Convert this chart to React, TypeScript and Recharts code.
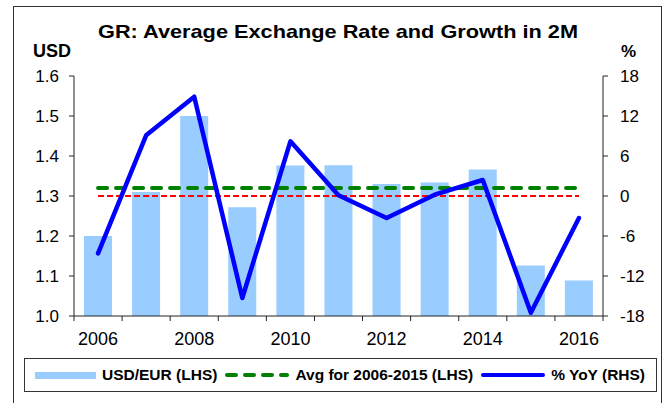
import React from "react";
import { ComposedChart, Bar, Line, XAxis, YAxis, Legend } from "recharts";

const years = ["2006", "2007", "2008", "2009", "2010", "2011", "2012", "2013", "2014", "2015", "2016"];
const usdEur = [1.2, 1.31, 1.5, 1.272, 1.376, 1.377, 1.33, 1.334, 1.366, 1.126, 1.089];
const avgLine = [1.32, 1.32, 1.32, 1.32, 1.32, 1.32, 1.32, 1.32, 1.32, 1.32, 1.32];
const parLine = [1.3, 1.3, 1.3, 1.3, 1.3, 1.3, 1.3, 1.3, 1.3, 1.3, 1.3];
const yoy = [-8.6, 9.1, 14.9, -15.3, 8.2, 0.1, -3.3, 0.2, 2.4, -17.5, -3.3];
const leftTicks = [1.0, 1.1, 1.2, 1.3, 1.4, 1.5, 1.6];
const rightTicks = [-18, -12, -6, 0, 6, 12, 18];
const legendOrder = ["usd", "avg", "yoy"];

const data = years.map((y, i) => ({
  year: y,
  usd: usdEur[i],
  avg: avgLine[i],
  par: parLine[i],
  yoy: yoy[i],
}));

const W = 669;
const H = 403;
const PLOT_LEFT = 74;
const PLOT_RIGHT = 603;
const BAND = (PLOT_RIGHT - PLOT_LEFT) / years.length;
const FONT = '"Liberation Sans", Arial, sans-serif';

const XTick = (props: any) => {
  const { x, y, payload, index } = props;
  const isLast = index === years.length - 1;
  return (
    <g>
      <line x1={x - BAND / 2} x2={x - BAND / 2} y1={y} y2={y + 5} stroke="#222" strokeWidth={1} />
      {isLast && <line x1={x + BAND / 2} x2={x + BAND / 2} y1={y} y2={y + 5} stroke="#222" strokeWidth={1} />}
      {index % 2 === 0 && (
        <text x={x} y={y + 29} textAnchor="middle" fontSize={18} fontFamily={FONT} fill="#000">
          {payload.value}
        </text>
      )}
    </g>
  );
};

const LegendContent = (props: any) => {
  const payload = (props.payload || [])
    .filter((p: any) => p.type !== "none" && legendOrder.includes(p.dataKey))
    .sort((a: any, b: any) => legendOrder.indexOf(a.dataKey) - legendOrder.indexOf(b.dataKey));
  const icon = (p: any) => {
    if (p.dataKey === "usd") {
      return <div style={{ width: 61, height: 7, background: "#99CCFF" }} />;
    }
    const dashed = p.dataKey === "avg";
    return (
      <svg width={64} height={8}>
        <line
          x1={2}
          x2={62}
          y1={4}
          y2={4}
          stroke={p.color}
          strokeWidth={4}
          strokeLinecap="round"
          strokeDasharray={dashed ? "9 9" : undefined}
        />
      </svg>
    );
  };
  return (
    <div
      style={{
        boxSizing: "border-box",
        width: 633,
        height: 34,
        border: "1px solid #333",
        background: "#fff",
        display: "flex",
        alignItems: "center",
        paddingLeft: 10,
        fontFamily: FONT,
        fontWeight: "bold",
        fontSize: 15.5,
        color: "#000",
        whiteSpace: "nowrap",
      }}
    >
      {payload.map((p: any, i: number) => (
        <div key={i} style={{ display: "flex", alignItems: "center", marginRight: 8 }}>
          {icon(p)}
          <span style={{ marginLeft: 6 }}>{p.value}</span>
        </div>
      ))}
    </div>
  );
};

export default function App() {
  return (
    <div style={{ position: "absolute", left: 0, top: 0, width: W, height: H, overflow: "hidden", background: "#fff" }}>
      <div
        style={{
          position: "absolute",
          left: 13,
          top: 6,
          width: 649,
          height: 420,
          border: "1.5px solid #333",
          boxSizing: "border-box",
        }}
      />
      <ComposedChart
        width={W}
        height={H}
        data={data}
        margin={{ top: 76, right: 16, left: 14, bottom: 57 }}
        style={{ position: "absolute", left: 0, top: 0 }}
      >
        <XAxis
          dataKey="year"
          xAxisId="x"
          height={30}
          interval={0}
          tickSize={0}
          tickMargin={0}
          tickLine={false}
          axisLine={{ stroke: "#222", strokeWidth: 1 }}
          tick={<XTick />}
        />
        <YAxis
          yAxisId="left"
          orientation="left"
          width={60}
          domain={[1.0, 1.6]}
          ticks={leftTicks}
          tickFormatter={(v: number) => v.toFixed(1)}
          tickSize={5}
          tickMargin={10}
          axisLine={{ stroke: "#222", strokeWidth: 1 }}
          tickLine={{ stroke: "#222", strokeWidth: 1 }}
          tick={{ fontSize: 17, fontFamily: FONT, fill: "#000" }}
        />
        <YAxis
          yAxisId="right"
          orientation="right"
          width={50}
          domain={[-18, 18]}
          ticks={rightTicks}
          tickSize={5}
          tickMargin={12}
          axisLine={{ stroke: "#222", strokeWidth: 1 }}
          tickLine={{ stroke: "#222", strokeWidth: 1 }}
          tick={{ fontSize: 17, fontFamily: FONT, fill: "#000" }}
        />
        <Legend
          layout="horizontal"
          verticalAlign="middle"
          align="center"
          content={<LegendContent />}
          wrapperStyle={{ left: 24, top: 358, width: 633, height: 34, margin: 0 }}
        />
        <Bar
          xAxisId="x"
          yAxisId="left"
          dataKey="usd"
          name="USD/EUR (LHS)"
          fill="#99CCFF"
          barSize={28}
          isAnimationActive={false}
        />
        <Line
          xAxisId="x"
          yAxisId="left"
          dataKey="par"
          name="par"
          stroke="#FF0000"
          strokeWidth={2}
          strokeDasharray="6 3"
          dot={false}
          legendType="none"
          isAnimationActive={false}
        />
        <Line
          xAxisId="x"
          yAxisId="left"
          dataKey="avg"
          name="Avg for 2006-2015 (LHS)"
          stroke="#008000"
          strokeWidth={4}
          strokeDasharray="9 9"
          strokeLinecap="round"
          dot={false}
          isAnimationActive={false}
        />
        <Line
          xAxisId="x"
          yAxisId="right"
          dataKey="yoy"
          name="% YoY (RHS)"
          stroke="#0000FF"
          strokeWidth={4.5}
          strokeLinejoin="round"
          strokeLinecap="round"
          dot={false}
          isAnimationActive={false}
        />
      </ComposedChart>
      <svg width={W} height={H} style={{ position: "absolute", left: 0, top: 0, pointerEvents: "none" }}>
        <text
          x={338}
          y={38}
          textAnchor="middle"
          fontSize={19}
          fontWeight="bold"
          fontFamily={FONT}
          fill="#000"
          textLength={480}
          lengthAdjust="spacingAndGlyphs"
        >
          GR: Average Exchange Rate and Growth in 2M
        </text>
        <text x={33} y={57} fontSize={18} fontWeight="bold" fontFamily={FONT} fill="#000">
          USD
        </text>
        <text x={621} y={57} fontSize={17} fontWeight="bold" fontFamily={FONT} fill="#000">
          %
        </text>
      </svg>
    </div>
  );
}
